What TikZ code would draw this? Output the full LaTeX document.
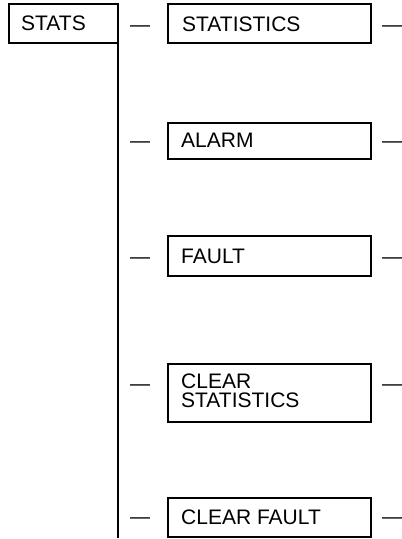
\documentclass[tikz,border=0pt]{standalone}
\usepackage{fontspec}
\setmainfont{Liberation Sans}
\begin{document}
\begin{tikzpicture}[x=1pt,y=-1pt,
  menubox/.style={draw, line width=2.5pt, inner sep=0pt},
  lbl/.style={anchor=base west, inner sep=0pt, font=\fontsize{21}{19}\selectfont, align=left},
  dashmark/.style={anchor=base west, inner sep=0pt, font=\fontsize{20}{20}\selectfont}]
\useasboundingbox (0,0) rectangle (402,539);
% root
\draw[menubox] (9,4) rectangle (118,43);
\node[lbl] (stats) at (21,30) {STATS};
\coordinate (top) at (118,43);
\coordinate (bot) at (118,538);
\draw[line width=2.2pt] (top) -- (bot);
% boxes
\draw[menubox] (168,4) rectangle (371,43);
\node[lbl] (b1) at (182,31) {STATISTICS};
\draw[menubox] (168,123) rectangle (371,159);
\node[lbl] (b2) at (181,147) {ALARM};
\draw[menubox] (168,236) rectangle (371,276);
\node[lbl] (b3) at (181,263) {FAULT};
\draw[menubox] (168,364) rectangle (371,422);
\node[lbl] (b4) at (181,407) {CLEAR\\STATISTICS};
\draw[menubox] (168,498) rectangle (371,537);
\node[lbl] (b5) at (181,524) {CLEAR FAULT};
% dashes
\foreach \y [count=\i] in {25,141,257,384,517}{
  \node[dashmark] (dl\i) at (130,\y+6) {—};
  \node[dashmark] (dr\i) at (382,\y+6) {—};
}
\end{tikzpicture}
\end{document}
